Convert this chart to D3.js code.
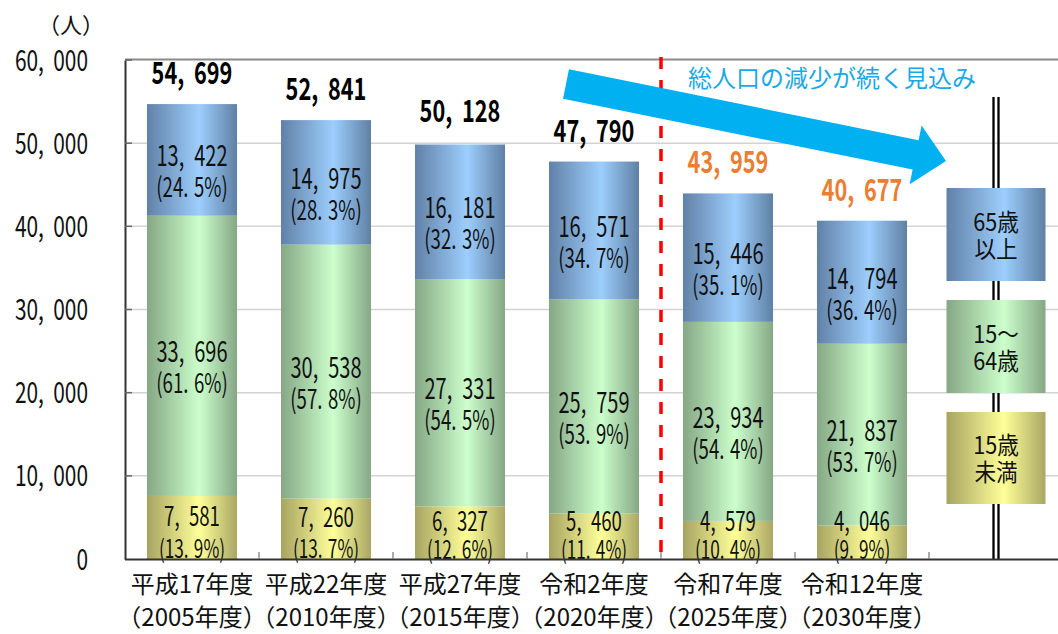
<!DOCTYPE html>
<html><head><meta charset="utf-8">
<script src="https://cdn.jsdelivr.net/npm/d3@7"></script>
<style>
body{margin:0;background:#fff}
svg{display:block}
text{font-family:"Noto Sans CJK JP","Noto Sans",sans-serif}
</style>
</head><body>
<svg id="chart" width="1058" height="634"></svg>
<script>
const categoriesLine1 = ["平成17年度","平成22年度","平成27年度","令和2年度","令和7年度","令和12年度"];
const categoriesLine2 = ["（2005年度）","（2010年度）","（2015年度）","（2020年度）","（2025年度）","（2030年度）"];
const under15 = [7581,7260,6327,5460,4579,4046];
const age15to64 = [33696,30538,27331,25759,23934,21837];
const over65 = [13422,14975,16181,16571,15446,14794];
const pctUnder15 = [13.9,13.7,12.6,11.4,10.4,9.9];
const pct15to64 = [61.6,57.8,54.5,53.9,54.4,53.7];
const pctOver65 = [24.5,28.3,32.3,34.7,35.1,36.4];
const totals = [54699,52841,50128,47790,43959,40677];
const projected = [false,false,false,false,true,true];
const yTicks = [0,10000,20000,30000,40000,50000,60000];
const legendLabels = [["65歳","以上"],["15～","64歳"],["15歳","未満"]];
const arrowLabel = "総人口の減少が続く見込み";
const yAxisTitle = "（人）";

const W = 1058, H = 634;
const svg = d3.select("#chart");
const defs = svg.append("defs");

const keys = ["under15","mid","over65"];
const gradColors = {
  under15: ["#a7a462","#ffff99","#a9a764"],
  mid:     ["#85a785","#ccffcc","#85a785"],
  over65:  ["#6181a7","#9dcefd","#5f80a4"]
};
keys.forEach(k => {
  const g = defs.append("linearGradient").attr("id","g-"+k)
    .attr("x1",0).attr("x2",1).attr("y1",0).attr("y2",0);
  g.append("stop").attr("offset","0%").attr("stop-color",gradColors[k][0]);
  g.append("stop").attr("offset","58%").attr("stop-color",gradColors[k][1]);
  g.append("stop").attr("offset","100%").attr("stop-color",gradColors[k][2]);
});

const plotL = 125, plotT = 60, plotB = 559;
const x = d3.scaleBand().domain(categoriesLine1)
  .range([plotL, plotL + 134*6]).paddingInner(0.328).paddingOuter(0.164);
const y = d3.scaleLinear().domain([0,60000]).range([plotB, plotT]);

const table = categoriesLine1.map((c,i)=>({cat:c, under15:under15[i], mid:age15to64[i], over65:over65[i]}));
const stacked = d3.stack().keys(keys)(table);
const pcts = {under15:pctUnder15, mid:pct15to64, over65:pctOver65};

// gridlines
svg.append("g").selectAll("line").data(yTicks.filter(t=>t>0 && t<60000)).join("line")
  .attr("x1",plotL).attr("x2",W).attr("y1",d=>y(d)).attr("y2",d=>y(d))
  .attr("stroke","#d3d3d3").attr("stroke-width",1.5);
// top border
svg.append("line").attr("x1",plotL).attr("x2",W).attr("y1",y(60000)-0.5).attr("y2",y(60000)-0.5)
  .attr("stroke","#8a8a8a").attr("stroke-width",2);

// y axis
const yAxis = d3.axisLeft(y).tickValues(yTicks).tickSize(0).tickFormat("");
const yg = svg.append("g").attr("transform",`translate(${plotL},0)`).call(yAxis);
yg.select(".domain").attr("stroke","#333").attr("stroke-width",2);
svg.append("g").selectAll("line").data(yTicks.filter(t=>t>0)).join("line")
  .attr("x1",plotL).attr("x2",plotL+7).attr("y1",d=>y(d)).attr("y2",d=>y(d))
  .attr("stroke","#666").attr("stroke-width",1.5);

// helper for numeric text with spaced punctuation
function spacedText(sel, str, gapEm){
  const parts = str.split(/([,.])/).filter(s=>s.length);
  let prevPunct = false;
  parts.forEach(p => {
    const t = sel.append("tspan").text(p);
    if (prevPunct) t.attr("dx", gapEm+"em");
    prevPunct = (p === "," || p === ".");
  });
}
const fmt = d3.format(",");

// y tick labels
yTicks.forEach(t => {
  const tx = svg.append("text")
    .attr("transform",`translate(88,${y(t)+10.5}) scale(0.72,1)`)
    .attr("text-anchor","end").attr("font-size",29).attr("fill","#111");
  spacedText(tx, fmt(t), 0.45);
});
svg.append("text").attr("x",71).attr("y",33).attr("text-anchor","middle")
  .attr("font-size",22).attr("fill","#111").text(yAxisTitle);

// red dashed divider between actual and projected
const divX = (x(categoriesLine1[3]) + x.bandwidth() + x(categoriesLine1[4]))/2;
svg.append("line").attr("x1",divX).attr("x2",divX).attr("y1",57).attr("y2",plotB)
  .attr("stroke","#ff0000").attr("stroke-width",3.5).attr("stroke-dasharray","12,11");

// legend double line
const legCx = x.range()[1] + x.step()/2;
[-2.5, 2.5].forEach(o => {
  svg.append("line").attr("x1",legCx+o).attr("x2",legCx+o).attr("y1",97).attr("y2",plotB)
    .attr("stroke","#000").attr("stroke-width",2.3);
});

// bars
const layers = svg.append("g").selectAll("g").data(stacked).join("g")
  .attr("fill", d => `url(#g-${d.key})`);
layers.selectAll("rect").data(d=>d).join("rect")
  .attr("x", d => x(d.data.cat)).attr("width", x.bandwidth())
  .attr("y", d => y(d[1])).attr("height", d => y(d[0]) - y(d[1]));

// segment labels (one text element per segment: value line + share line)
stacked.forEach((layer, k) => {
  layer.forEach((d, i) => {
    const top = y(d[1]), bot = y(d[0]), mid = (top+bot)/2;
    let numC, pctC, f1, f2;
    if (k === 0) { numC = Math.min(mid-12, y(0)-39); pctC = y(0)-10; f1 = 27; f2 = 25; }
    else { numC = mid-4; pctC = mid+28; f1 = 29; f2 = 27; }
    const cx = x(d.data.cat) + x.bandwidth()/2;
    const t = svg.append("text").attr("transform",`translate(${cx},${numC+10.5}) scale(0.69,1)`)
      .attr("text-anchor","middle").attr("font-size",f1).attr("fill","#111");
    const l1 = t.append("tspan").attr("x",0);
    spacedText(l1, fmt(d[1]-d[0]), 0.5);
    const l2 = t.append("tspan").attr("x",0).attr("dy", (pctC+9.5)-(numC+10.5)).attr("font-size",f2);
    spacedText(l2, "(" + pcts[layer.key][i].toFixed(1) + "%)", 0.3);
  });
});

// totals
totals.forEach((v,i) => {
  const cx = x(categoriesLine1[i]) + x.bandwidth()/2;
  const t = svg.append("text").attr("transform",`translate(${cx},${y(v)-20}) scale(0.7,1)`)
    .attr("text-anchor","middle").attr("font-size",31).attr("font-weight","bold")
    .attr("fill", projected[i] ? "#ed7d31" : "#000");
  spacedText(t, fmt(v), 0.45);
});

// x axis
svg.append("line").attr("x1",plotL).attr("x2",W).attr("y1",plotB+0.5).attr("y2",plotB+0.5)
  .attr("stroke","#333").attr("stroke-width",2);
const bounds = d3.range(1,7).map(i => x.range()[0] + i*x.step());
svg.append("g").selectAll("line").data(bounds).join("line")
  .attr("x1",d=>d).attr("x2",d=>d).attr("y1",plotB).attr("y2",plotB-7)
  .attr("stroke","#777").attr("stroke-width",1.2);
categoriesLine1.forEach((c,i) => {
  const cx = x(c) + x.bandwidth()/2;
  svg.append("text").attr("x",cx).attr("y",593).attr("text-anchor","middle")
    .attr("font-size",24).attr("fill","#111").text(c);
  svg.append("text").attr("x",cx).attr("y",626)
    .attr("text-anchor","middle").attr("font-size",24).attr("fill","#111").text(categoriesLine2[i]);
});

// legend boxes
const legBoxes = [[188,281,"over65"],[300,393,"mid"],[412,504,"under15"]];
legBoxes.forEach((b,j) => {
  svg.append("rect").attr("x",legCx-49.5).attr("width",99).attr("y",b[0]).attr("height",b[1]-b[0])
    .attr("fill",`url(#g-${b[2]})`);
  const m = (b[0]+b[1])/2;
  legendLabels[j].forEach((s,l) => {
    svg.append("text").attr("transform",`translate(${legCx},${m-13+l*27+9}) scale(0.9,1)`)
      .attr("text-anchor","middle").attr("font-size",24).attr("fill","#111").text(s);
  });
});

// trend arrow
const a0 = [566,84], a1 = [946,161];
const L = Math.hypot(a1[0]-a0[0], a1[1]-a0[1]);
const ang = Math.atan2(a1[1]-a0[1], a1[0]-a0[0]) * 180/Math.PI;
const hw = 15, hh = 30, hl = 31;
const pts = [[0,-hw],[L-hl,-hw],[L-hl,-hh],[L,0],[L-hl,hh],[L-hl,hw],[0,hw]];
svg.append("polygon").attr("points", pts.map(p=>p.join(",")).join(" "))
  .attr("transform",`translate(${a0[0]},${a0[1]}) rotate(${ang})`)
  .attr("fill","#00b0f0");
svg.append("text").attr("x",832).attr("y",87).attr("text-anchor","middle")
  .attr("font-size",24).attr("fill","#1aa9e6").text(arrowLabel);
</script>
</body></html>
